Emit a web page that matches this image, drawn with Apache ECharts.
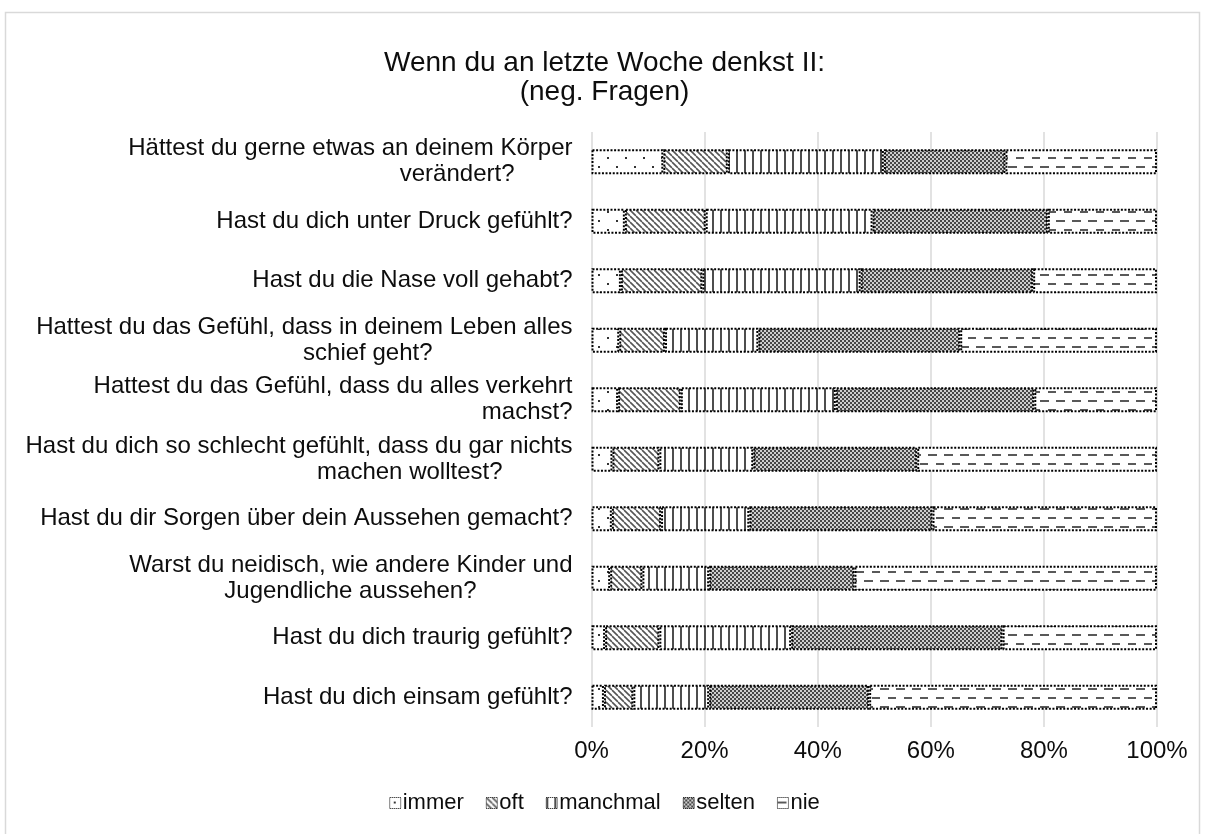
<!DOCTYPE html>
<html>
<head>
<meta charset="utf-8">
<script src="https://cdn.jsdelivr.net/npm/echarts@6/dist/echarts.min.js"></script>
<style>
  html, body { margin: 0; padding: 0; background: #fff; }
  #chart { width: 1209px; height: 834px; }
</style>
</head>
<body>
<div id="chart"></div>
<script>
// top to bottom as in the picture
const categories = [
  'Hättest du gerne etwas an deinem Körper\nverändert?',
  'Hast du dich unter Druck gefühlt?',
  'Hast du die Nase voll gehabt?',
  'Hattest du das Gefühl, dass in deinem Leben alles\nschief geht?',
  'Hattest du das Gefühl, dass du alles verkehrt\nmachst?',
  'Hast du dich so schlecht gefühlt, dass du gar nichts\nmachen wolltest?',
  'Hast du dir Sorgen über dein Aussehen gemacht?',
  'Warst du neidisch, wie andere Kinder und\nJugendliche aussehen?',
  'Hast du dich traurig gefühlt?',
  'Hast du dich einsam gefühlt?'
]
const seriesNames = ['immer', 'oft', 'manchmal', 'selten', 'nie']
const immer    = [12.7, 5.9, 5.2, 4.9, 4.7, 3.7, 3.6, 3.3, 2.4, 2.2]
const oft      = [11.4, 14.3, 14.4, 8.1, 11.1, 8.3, 8.7, 5.7, 9.6, 5.2]
const manchmal = [27.6, 29.5, 28.0, 16.5, 27.4, 16.6, 15.6, 11.8, 23.3, 13.4]
const selten   = [21.5, 31.0, 30.5, 35.7, 35.1, 29.0, 32.4, 25.7, 37.4, 28.3]
const nie      = [26.8, 19.3, 21.9, 34.8, 21.7, 42.4, 39.7, 53.5, 27.3, 50.9]
const xTicks = [0, 20, 40, 60, 80, 100]

// the wrapped second lines are not flush right in the original (px from the right edge)
const wrapIndent = [58, 0, 0, 140, 0, 70, 0, 96, 0, 0]

const makePattern = (w, h, draw) => {
  const c = document.createElement('canvas')
  c.width = w
  c.height = h
  const ctx = c.getContext('2d')
  ctx.fillStyle = '#fff'
  ctx.fillRect(0, 0, w, h)
  draw(ctx)
  return { image: c, repeat: 'repeat' }
}

const patterns = {
  immer: makePattern(18, 18, ctx => {
    ctx.fillStyle = '#333'
    ctx.fillRect(4, 4, 2, 2)
    ctx.fillRect(13, 13, 2, 2)
  }),
  oft: makePattern(6, 6, ctx => {
    ctx.strokeStyle = '#555'
    ctx.lineWidth = 1.6
    for (const k of [-6, 0, 6]) {
      ctx.beginPath()
      ctx.moveTo(k, 0)
      ctx.lineTo(k + 6, 6)
      ctx.stroke()
    }
  }),
  manchmal: makePattern(8, 4, ctx => {
    ctx.fillStyle = '#4d4d4d'
    ctx.fillRect(0, 0, 2, 4)
  }),
  selten: makePattern(4, 4, ctx => {
    ctx.fillStyle = '#cfcfcf'
    ctx.fillRect(0, 0, 4, 4)
    ctx.fillStyle = '#474747'
    ctx.fillRect(0, 0, 2, 2)
    ctx.fillRect(2, 2, 2, 2)
  }),
  nie: makePattern(16, 18, ctx => {
    ctx.fillStyle = '#595959'
    ctx.fillRect(0, 4, 9, 2)
    ctx.fillRect(8, 13, 9, 2)
  })
}

const values = { immer, oft, manchmal, selten, nie }

const labelRich = {}
wrapIndent.forEach((off, i) => {
  labelRich['w' + i] = { fontSize: 24, lineHeight: 26, color: '#0d0d0d', padding: [0, off, 0, 0] }
})

const chart = echarts.init(document.getElementById('chart'))

const option = {
  animation: false,
  backgroundColor: '#fff',
  textStyle: { fontFamily: 'Liberation Sans, Arial, sans-serif' },
  title: {
    text: 'Wenn du an letzte Woche denkst II:\n(neg. Fragen)',
    left: 'center',
    top: 44,
    textStyle: {
      fontSize: 28,
      fontWeight: 'normal',
      color: '#0d0d0d',
      lineHeight: 29,
      fontFamily: 'Liberation Sans, Arial, sans-serif'
    }
  },
  graphic: [{
    type: 'rect',
    silent: true,
    shape: { x: 5.5, y: 12.5, width: 1194, height: 830 },
    style: { fill: 'none', stroke: '#d9d9d9', lineWidth: 1.5 }
  }],
  legend: {
    data: seriesNames,
    bottom: 15,
    left: 'center',
    itemWidth: 11,
    itemHeight: 11,
    itemGap: 22,
    icon: 'rect',
    itemStyle: { borderWidth: 1, borderColor: '#000', borderType: [1, 1] },
    textStyle: { fontSize: 22, color: '#0d0d0d', padding: [0, 0, 0, -3] }
  },
  grid: {
    left: 591.5,
    right: 52,
    top: 132,
    bottom: 107
  },
  xAxis: {
    type: 'value',
    min: xTicks[0],
    max: xTicks[xTicks.length - 1],
    interval: 20,
    axisLine: { show: false },
    axisTick: { show: false },
    axisLabel: {
      formatter: '{value}%',
      fontSize: 24,
      color: '#0d0d0d',
      margin: 12
    },
    splitLine: { lineStyle: { color: '#d9d9d9', width: 1.5 } }
  },
  yAxis: {
    type: 'category',
    inverse: true,
    data: categories,
    axisLine: { show: false },
    axisTick: { show: false },
    axisLabel: {
      fontSize: 24,
      lineHeight: 26,
      color: '#0d0d0d',
      margin: 19,
      formatter: (value, index) => {
        const [first, second] = value.split('\n')
        if (!second) return first
        return first + '\n{w' + index + '|' + second + '}'
      },
      rich: labelRich
    }
  },
  series: seriesNames.map(name => ({
    name,
    type: 'bar',
    stack: 'total',
    barWidth: 25,
    data: values[name],
    itemStyle: {
      color: patterns[name],
      borderColor: '#000',
      borderWidth: 2,
      borderType: [2, 1.6]
    },
    emphasis: { disabled: true }
  }))
}

chart.setOption(option)
window.addEventListener('resize', () => chart.resize())
</script>
</body>
</html>
